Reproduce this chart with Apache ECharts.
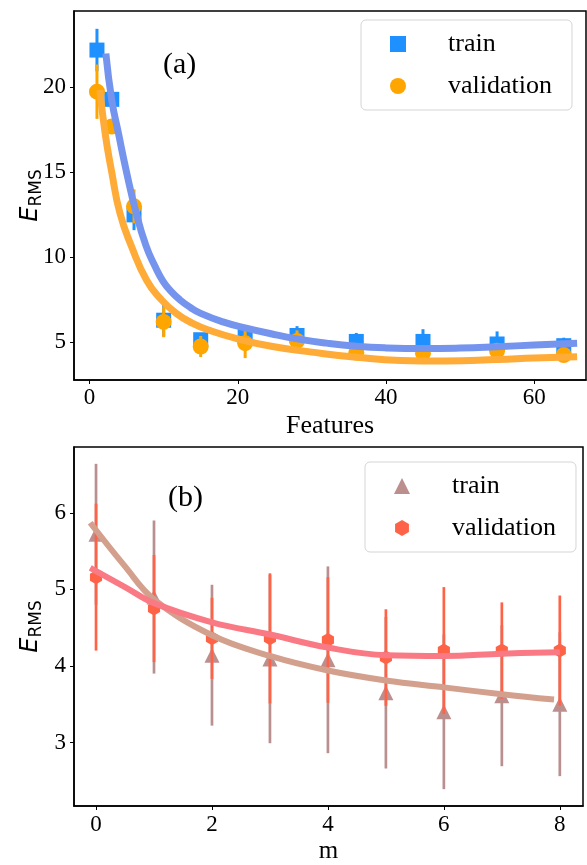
<!DOCTYPE html>
<html>
<head>
<meta charset="utf-8">
<script src="https://cdn.jsdelivr.net/npm/echarts@6/dist/echarts.min.js"></script>
<style>
html,body{margin:0;padding:0;background:#fff;}
#chart{width:587px;height:865px;}
</style>
</head>
<body>
<div id="chart"></div>
<script>
// ---------- Panel (a) data ----------
const featuresA = [1, 3, 6, 10, 15, 21, 28, 36, 45, 55, 64];
const trainA    = [22.2, 19.3, 12.5, 6.3, 5.15, 5.4, 5.4, 5.05, 5.05, 4.9, 4.8];
const trainAErr = [1.25, 0.35, 0.9, 0.95, 0.3, 0.6, 0.55, 0.5, 0.72, 0.74, 0.47];
const valA      = [19.75, 17.7, 13.0, 6.2, 4.75, 4.95, 5.08, 4.4, 4.35, 4.5, 4.25];
const valAErr   = [1.6, 0.35, 1.0, 0.9, 0.62, 0.88, 0.62, 0.3, 0.45, 0.3, 0.3];
// fitted curves [feature, E_RMS]
const trainAFitX = [2.2, 3, 3.9, 5, 6.3, 7.6, 8.8, 9.9, 11, 12.2, 13.6, 15, 18, 21, 24.5, 28, 32, 36, 40, 45, 50, 55, 60, 65.8];
const trainAFitY = [22.0, 19.25, 17.3, 15.0, 12.6, 10.7, 9.5, 8.6, 8.0, 7.5, 7.05, 6.7, 6.2, 5.85, 5.5, 5.2, 4.95, 4.77, 4.67, 4.63, 4.66, 4.74, 4.84, 4.95];
const valAFitX   = [1.4, 2.1, 3, 4.1, 5.7, 7.7, 9.5, 11.7, 14, 16.2, 20, 24.7, 30, 36, 42, 48, 55, 60, 65.8];
const valAFitY   = [19.85, 17.3, 15.0, 12.6, 10.6, 8.65, 7.6, 6.7, 6.1, 5.7, 5.2, 4.75, 4.42, 4.12, 3.93, 3.9, 3.98, 4.07, 4.15];
const xTicksA = [0, 20, 40, 60];
const yTicksA = [5, 10, 15, 20];

// ---------- Panel (b) data ----------
const mB        = [0, 1, 2, 3, 4, 5, 6, 7, 8];
const trainB    = [5.72, 4.9, 4.14, 4.09, 4.08, 3.65, 3.40, 3.61, 3.50];
const trainBErr = [0.92, 1.0, 0.92, 1.1, 1.22, 0.99, 1.01, 0.92, 0.94];
const valB      = [5.16, 4.75, 4.36, 4.36, 4.34, 4.11, 4.20, 4.20, 4.20];
const valBErr   = [0.96, 0.70, 0.53, 0.85, 0.82, 0.63, 0.83, 0.63, 0.72];
const trainBFitX = [-0.1, 0.5, 1, 2, 3, 4, 5, 6, 7, 7.9];
const trainBFitY = [5.87, 5.3, 4.87, 4.4, 4.13, 3.94, 3.81, 3.72, 3.63, 3.56];
const valBFitX   = [-0.1, 0.5, 1, 2, 3, 4, 5, 6, 7, 8];
const valBFitY   = [5.28, 5.03, 4.82, 4.57, 4.41, 4.24, 4.14, 4.13, 4.16, 4.18];
const xTicksB = [0, 2, 4, 6, 8];
const yTicksB = [3, 4, 5, 6];

const legendLabels = {trainA: 'train', valA: 'validation', trainB: 'train', valB: 'validation'};

const SERIF = 'Liberation Serif';
const hexPath = 'path://M0,-1L0.866,-0.5L0.866,0.5L0,1L-0.866,0.5L-0.866,-0.5Z';

function pairs(xs, ys) { return xs.map((x, i) => [x, ys[i]]); }
function triples(xs, ys, es) { return xs.map((x, i) => [x, ys[i], es[i]]); }

function errSeries(name, gi, xs, ys, es, color, width, z) {
  return {
    type: 'custom', name: name, xAxisIndex: gi, yAxisIndex: gi, z: z,
    data: triples(xs, ys, es),
    encode: {x: 0, y: 1},
    silent: true,
    renderItem: function (params, api) {
      const x = api.value(0), y = api.value(1), e = api.value(2);
      const p1 = api.coord([x, y - e]);
      const p2 = api.coord([x, y + e]);
      return {type: 'line', shape: {x1: p1[0], y1: p1[1], x2: p2[0], y2: p2[1]},
              style: {stroke: color, lineWidth: width}};
    }
  };
}

const yNameText = '{e|E}{s|RMS}';
const yNameStyle = {
  rich: {
    e: {fontFamily: 'DejaVu Sans', fontStyle: 'italic', fontSize: 24, color: '#000', verticalAlign: 'top', lineHeight: 26},
    s: {fontFamily: 'DejaVu Sans', fontSize: 17, color: '#000', verticalAlign: 'bottom', padding: [11, 0, 0, 0], lineHeight: 18}
  }
};

function axisBase(pos) {
  return {
    type: 'value',
    position: pos,
    axisLine: {show: true, onZero: false, lineStyle: {color: '#000', width: 1.5}},
    splitLine: {show: false},
    nameMoveOverlap: false
  };
}

function makeLegend(top, left, names, icons) {
  return {
    orient: 'vertical', left: left, top: top,
    padding: [11, 20, 11, 29],
    itemWidth: 16, itemHeight: 16, itemGap: 16,
    selectedMode: false,
    borderColor: '#d5d5d5', borderWidth: 1, borderRadius: 5,
    backgroundColor: 'rgba(255,255,255,0.85)',
    data: names.map((n, i) => ({name: n, icon: icons[i]})),
    formatter: function (n) { return legendLabels[n]; },
    textStyle: {fontFamily: SERIF, fontSize: 26, color: '#000', lineHeight: 24, padding: [0, 0, 0, 37]}
  };
}

const option = {
  animation: false,
  backgroundColor: '#fff',
  grid: [
    {left: 74, right: 1, top: 11, bottom: 485, show: true, borderColor: '#000', borderWidth: 1.5, backgroundColor: 'transparent'},
    {left: 74, right: 4, top: 447, bottom: 55, show: true, borderColor: '#000', borderWidth: 1.5, backgroundColor: 'transparent'}
  ],
  xAxis: [
    Object.assign(axisBase('bottom'), {
      gridIndex: 0, min: -2.1, max: 67,
      axisTick: {customValues: xTicksA, length: 4, lineStyle: {color: '#000', width: 1}},
      axisLabel: {customValues: xTicksA, margin: 6, fontFamily: SERIF, fontSize: 23, color: '#000'},
      name: 'Features', nameLocation: 'middle', nameGap: 33,
      nameTextStyle: {fontFamily: SERIF, fontSize: 26, color: '#000'}
    }),
    Object.assign(axisBase('bottom'), {
      gridIndex: 1, min: -0.38, max: 8.4,
      axisTick: {customValues: xTicksB, length: 4, lineStyle: {color: '#000', width: 1}},
      axisLabel: {customValues: xTicksB, margin: 7, fontFamily: SERIF, fontSize: 23, color: '#000'},
      name: 'm', nameLocation: 'middle', nameGap: 33,
      nameTextStyle: {fontFamily: SERIF, fontSize: 25, color: '#000'}
    })
  ],
  yAxis: [
    Object.assign(axisBase('left'), {
      gridIndex: 0, min: 2.78, max: 24.5,
      axisTick: {customValues: yTicksA, length: 4, lineStyle: {color: '#000', width: 1}},
      axisLabel: {customValues: yTicksA, margin: 8, fontFamily: SERIF, fontSize: 23, color: '#000'},
      name: yNameText, nameLocation: 'middle', nameRotate: 90, nameGap: 29,
      nameTextStyle: yNameStyle
    }),
    Object.assign(axisBase('left'), {
      gridIndex: 1, min: 2.17, max: 6.86,
      axisTick: {customValues: yTicksB, length: 4, lineStyle: {color: '#000', width: 1}},
      axisLabel: {customValues: yTicksB, margin: 8, fontFamily: SERIF, fontSize: 23, color: '#000'},
      name: yNameText, nameLocation: 'middle', nameRotate: 90, nameGap: 29,
      nameTextStyle: yNameStyle
    })
  ],
  legend: [
    makeLegend(20, 361, ['trainA', 'valA'], ['rect', 'circle']),
    makeLegend(462, 365, ['trainB', 'valB'], ['triangle', hexPath])
  ],
  graphic: [
    {type: 'text', left: 163, top: 50, style: {text: '(a)', font: '30px "Liberation Serif"', fill: '#000'}},
    {type: 'text', left: 168, top: 483, style: {text: '(b)', font: '30px "Liberation Serif"', fill: '#000'}}
  ],
  series: [
    // panel (a)
    errSeries('trainAErr', 0, featuresA, trainA, trainAErr, '#1E90FF', 3, 2),
    {type: 'scatter', name: 'trainA', xAxisIndex: 0, yAxisIndex: 0, z: 3, symbol: 'rect', symbolSize: 15,
     itemStyle: {color: '#1E90FF', opacity: 1}, data: pairs(featuresA, trainA)},
    errSeries('valAErr', 0, featuresA, valA, valAErr, '#FFA500', 3, 4),
    {type: 'scatter', name: 'valA', xAxisIndex: 0, yAxisIndex: 0, z: 5, symbol: 'circle', symbolSize: 16,
     itemStyle: {color: '#FFA500', opacity: 1}, data: pairs(featuresA, valA)},
    {type: 'line', name: 'trainAFit', xAxisIndex: 0, yAxisIndex: 0, z: 6, symbol: 'none', smooth: 0.5,
     lineStyle: {color: '#7594EE', width: 7}, data: pairs(trainAFitX, trainAFitY)},
    {type: 'line', name: 'valAFit', xAxisIndex: 0, yAxisIndex: 0, z: 7, symbol: 'none', smooth: 0.5,
     lineStyle: {color: '#FFAB38', width: 7}, data: pairs(valAFitX, valAFitY)},
    // panel (b)
    errSeries('trainBErr', 1, mB, trainB, trainBErr, '#B98F8F', 2.7, 2),
    {type: 'scatter', name: 'trainB', xAxisIndex: 1, yAxisIndex: 1, z: 3, symbol: 'triangle', symbolSize: 15,
     itemStyle: {color: '#BC8F8F', opacity: 1}, data: pairs(mB, trainB)},
    errSeries('valBErr', 1, mB, valB, valBErr, '#FF6347', 2.7, 4),
    {type: 'scatter', name: 'valB', xAxisIndex: 1, yAxisIndex: 1, z: 5, symbol: hexPath, symbolSize: 14, symbolKeepAspect: true,
     itemStyle: {color: '#FF6347', opacity: 1}, data: pairs(mB, valB)},
    {type: 'line', name: 'trainBFit', xAxisIndex: 1, yAxisIndex: 1, z: 6, symbol: 'none', smooth: 0.4,
     lineStyle: {color: '#D4A08E', width: 6}, data: pairs(trainBFitX, trainBFitY)},
    {type: 'line', name: 'valBFit', xAxisIndex: 1, yAxisIndex: 1, z: 7, symbol: 'none', smooth: 0.4,
     lineStyle: {color: '#F97A84', width: 6}, data: pairs(valBFitX, valBFitY)}
  ]
};

const chart = echarts.init(document.getElementById('chart'), null, {renderer: 'canvas'});
chart.setOption(option);
</script>
</body>
</html>
